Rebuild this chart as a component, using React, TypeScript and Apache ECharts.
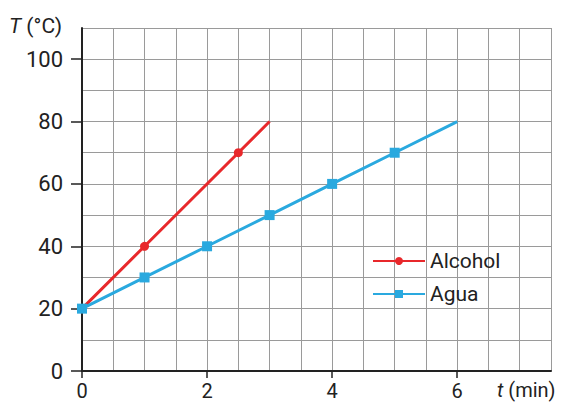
import React, { useEffect, useRef } from "react";
import * as echarts from "echarts";

const alcoholData: number[][] = [
  [0, 20],
  [1, 40],
  [2.5, 70],
  [3, 80],
];
const aguaData: number[][] = [
  [0, 20],
  [1, 30],
  [2, 40],
  [3, 50],
  [4, 60],
  [5, 70],
  [6, 80],
];
const xTickValues = [0, 2, 4, 6];
const yTickValues = [0, 20, 40, 60, 80, 100];
const seriesNames = ["Alcohol", "Agua"];

const RED = "#e8282b";
const BLUE = "#2aa9df";
const FONT = "Roboto";

export default function App() {
  const ref = useRef<HTMLDivElement>(null);
  useEffect(() => {
    document.body.style.margin = "0";
    const chart = echarts.init(ref.current!, null, { renderer: "svg" });
    const lastMarkerless = (arr: any[]) =>
      arr.map((p, i) =>
        i === arr.length - 1 ? { value: p, symbol: "none" } : { value: p }
      );
    const gridAxis = (max: number, interval: number) => ({
      type: "value",
      min: 0,
      max,
      interval,
      axisLine: { show: false },
      axisTick: { show: false },
      axisLabel: { show: false },
      splitLine: { show: true, lineStyle: { color: "#9a9a9a", width: 1 } },
      z: 0,
    });
    chart.setOption({
      animation: false,
      grid: { left: 82, right: 12, top: 28, bottom: 32, containLabel: false },
      xAxis: [
        {
          type: "value",
          min: 0,
          max: 7.5,
          interval: 0.5,
          axisLine: { show: true, onZero: false, lineStyle: { color: "#222", width: 2 } },
          axisTick: {
            show: true,
            customValues: xTickValues,
            length: 7,
            lineStyle: { color: "#222", width: 1.5 },
          },
          axisLabel: {
            customValues: xTickValues,
            margin: 10,
            color: "#222",
            fontFamily: FONT,
            fontSize: 20,
          },
          splitLine: { show: false },
          z: 3,
        },
        gridAxis(7.5, 0.5),
      ],
      yAxis: [
        {
          type: "value",
          min: 0,
          max: 110,
          interval: 10,
          axisLine: { show: true, onZero: false, lineStyle: { color: "#222", width: 2 } },
          axisTick: {
            show: true,
            customValues: yTickValues,
            length: 11,
            lineStyle: { color: "#222", width: 1.5 },
          },
          axisLabel: {
            customValues: yTickValues,
            margin: 19,
            color: "#222",
            fontFamily: FONT,
            fontSize: 22,
          },
          splitLine: { show: false },
          z: 3,
        },
        gridAxis(110, 10),
      ],
      legend: {
        data: seriesNames,
        orient: "vertical",
        left: 367,
        top: 245,
        itemWidth: 52,
        itemHeight: 10,
        itemGap: 11,
        textStyle: { fontFamily: FONT, fontSize: 21, color: "#222", lineHeight: 22 },
      },
      graphic: [
        {
          type: "text",
          left: 9,
          top: 15,
          style: {
            text: "{i|T} (°C)",
            fontFamily: FONT,
            fontSize: 21,
            fill: "#222",
            rich: { i: { fontStyle: "italic", fontFamily: FONT, fontSize: 21, fill: "#222" } },
          },
        },
        {
          type: "text",
          left: 497,
          top: 380,
          style: {
            text: "{i|t} (min)",
            fontFamily: FONT,
            fontSize: 20,
            fill: "#222",
            rich: { i: { fontStyle: "italic", fontFamily: FONT, fontSize: 20, fill: "#222" } },
          },
        },
      ],
      series: [
        {
          name: seriesNames[0],
          type: "line",
          data: lastMarkerless(alcoholData),
          symbol: "circle",
          symbolSize: 9,
          color: RED,
          lineStyle: { color: RED, width: 3 },
          itemStyle: { color: RED },
          z: 4,
        },
        {
          name: seriesNames[1],
          type: "line",
          data: lastMarkerless(aguaData),
          symbol: "rect",
          symbolSize: 10,
          color: BLUE,
          lineStyle: { color: BLUE, width: 3 },
          itemStyle: { color: BLUE },
          z: 5,
        },
      ],
    });
    return () => chart.dispose();
  }, []);
  return (
    <div
      ref={ref}
      style={{ position: "absolute", left: 0, top: 0, width: 563, height: 403 }}
    />
  );
}
